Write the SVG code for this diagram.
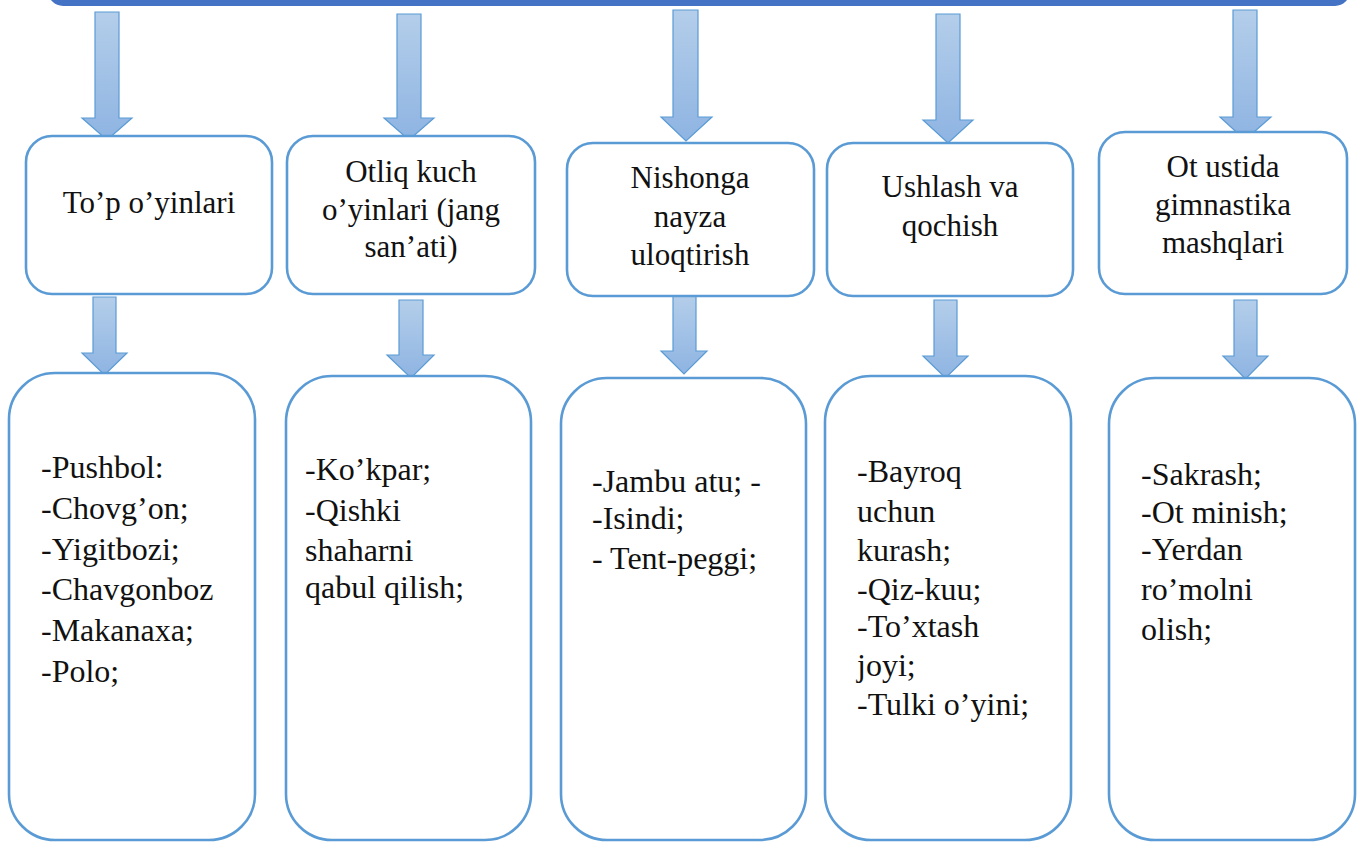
<svg xmlns="http://www.w3.org/2000/svg" width="1359" height="842" viewBox="0 0 1359 842">
<defs>
<linearGradient id="ag" x1="0" y1="0" x2="0" y2="1">
<stop offset="0" stop-color="#B4CEEA"/>
<stop offset="1" stop-color="#8EB4E2"/>
</linearGradient>
<style>
.arr{fill:url(#ag);stroke:#5B9BD5;stroke-width:1.2}
.box{fill:#fff;stroke:#5B9BD5;stroke-width:2.6}
.h{font-family:'Liberation Serif',serif;font-size:31px;fill:#111;text-anchor:middle}
.l{font-family:'Liberation Serif',serif;font-size:32px;fill:#111}
</style>
</defs>
<rect x="48" y="-40" width="1302" height="46" rx="15" fill="#4472C4"/>
<g id="connectors">
<polygon class="arr" points="95,12 119,12 119,118 132,118 107,140 82,118 95,118"/>
<polygon class="arr" points="397,14 421,14 421,118 434,118 409,140 384,118 397,118"/>
<polygon class="arr" points="673,10 698,10 698,117 712,117 686,141 661,117 673,117"/>
<polygon class="arr" points="936,14 960,14 960,120 973,120 948,143 923,120 936,120"/>
<polygon class="arr" points="1233,10 1257,10 1257,117 1271,117 1245,140 1220,117 1233,117"/>
<polygon class="arr" points="93,297 116,297 116,353 127,353 104.5,375 82,353 93,353"/>
<polygon class="arr" points="399,300 423,300 423,355 434,355 411,378 387,355 399,355"/>
<polygon class="arr" points="673,295 696,295 696,351 707,351 684,374 661,351 673,351"/>
<polygon class="arr" points="934,300 957,300 957,356 968,356 945.5,378 923,356 934,356"/>
<polygon class="arr" points="1234,300 1257,300 1257,356 1268,356 1245.5,379 1223,356 1234,356"/>
</g>
<g id="n1"><rect class="box" x="26" y="136" width="246" height="158" rx="26"/>
<text class="h" x="149" y="213">To’p o’yinlari</text></g>
<g id="n2"><rect class="box" x="287" y="136" width="248" height="158" rx="26"/>
<text class="h" x="411" y="182">Otliq kuch</text>
<text class="h" x="411" y="220">o’yinlari (jang</text>
<text class="h" x="411" y="257">san’ati)</text></g>
<g id="n3"><rect class="box" x="567" y="143" width="247" height="153" rx="26"/>
<text class="h" x="690" y="188">Nishonga</text>
<text class="h" x="690" y="227">nayza</text>
<text class="h" x="690" y="265">uloqtirish</text></g>
<g id="n4"><rect class="box" x="827" y="143" width="246" height="153" rx="26"/>
<text class="h" x="950" y="197">Ushlash va</text>
<text class="h" x="950" y="236">qochish</text></g>
<g id="n5"><rect class="box" x="1099" y="132" width="248" height="162" rx="26"/>
<text class="h" x="1223" y="177">Ot ustida</text>
<text class="h" x="1223" y="215">gimnastika</text>
<text class="h" x="1223" y="253">mashqlari</text></g>
<g id="l1"><rect class="box" x="9" y="373" width="246" height="467" rx="46"/>
<text class="l" x="41" y="478">-Pushbol:</text>
<text class="l" x="41" y="519">-Chovg’on;</text>
<text class="l" x="41" y="560">-Yigitbozi;</text>
<text class="l" x="41" y="600">-Chavgonboz</text>
<text class="l" x="41" y="641">-Makanaxa;</text>
<text class="l" x="41" y="682">-Polo;</text></g>
<g id="l2"><rect class="box" x="286" y="376" width="245" height="464" rx="46"/>
<text class="l" x="305" y="480">-Ko’kpar;</text>
<text class="l" x="305" y="521">-Qishki</text>
<text class="l" x="305" y="561">shaharni</text>
<text class="l" x="305" y="598">qabul qilish;</text></g>
<g id="l3"><rect class="box" x="561" y="378" width="245" height="462" rx="46"/>
<text class="l" x="592" y="492">-Jambu atu; -</text>
<text class="l" x="592" y="529">-Isindi;</text>
<text class="l" x="592" y="569">- Tent-peggi;</text></g>
<g id="l4"><rect class="box" x="825" y="376" width="246" height="464" rx="46"/>
<text class="l" x="857" y="482">-Bayroq</text>
<text class="l" x="857" y="522">uchun</text>
<text class="l" x="857" y="561">kurash;</text>
<text class="l" x="857" y="600">-Qiz-kuu;</text>
<text class="l" x="857" y="637">-To’xtash</text>
<text class="l" x="857" y="676">joyi;</text>
<text class="l" x="857" y="715">-Tulki o’yini;</text></g>
<g id="l5"><rect class="box" x="1109" y="378" width="246" height="462" rx="46"/>
<text class="l" x="1141" y="485">-Sakrash;</text>
<text class="l" x="1141" y="523">-Ot minish;</text>
<text class="l" x="1141" y="560">-Yerdan</text>
<text class="l" x="1141" y="600">ro’molni</text>
<text class="l" x="1141" y="640">olish;</text></g>
</svg>
